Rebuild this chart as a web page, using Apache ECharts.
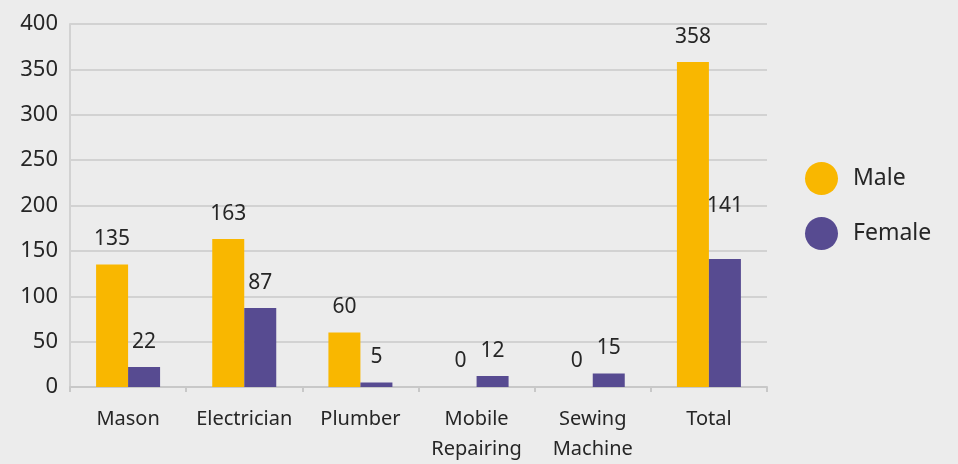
<!DOCTYPE html>
<html><head><meta charset="utf-8">
<script src="https://cdn.jsdelivr.net/npm/echarts@6/dist/echarts.min.js"></script>
<style>html,body{margin:0;padding:0;background:#ececec}#c{width:958px;height:464px}</style>
</head><body><div id="c"></div>
<script>
var categories = ['Mason', 'Electrician', 'Plumber', 'Mobile\nRepairing', 'Sewing\nMachine', 'Total'];
var maleValues = [135, 163, 60, 0, 0, 358];
var femaleValues = [22, 87, 5, 12, 15, 141];
var yTicks = [0, 50, 100, 150, 200, 250, 300, 350, 400];

var FONT = 'Noto Sans';
var TXT = '#262626';
var chart = echarts.init(document.getElementById('c'));
function labelCfg(dist){
  return {show:true, position:'top', distance:dist, color:TXT, fontSize:21, fontFamily:FONT};
}
var femaleData = femaleValues.map(function(v,i){
  if (i === 5) return {value:v, label:{distance:43}};
  return v;
});
chart.setOption({
  backgroundColor:'#ececec',
  animation:false,
  grid:{left:70, right:191, top:24, bottom:76},
  legend:{
    orient:'vertical', left:800, top:157, itemWidth:33, itemHeight:33, itemGap:22,
    icon:'circle',
    textStyle:{fontSize:23, color:TXT, fontFamily:FONT, padding:[0,0,0,10]},
    data:['Male','Female']
  },
  xAxis:{
    type:'category', data:categories,
    axisLine:{lineStyle:{color:'#c8c8c8', width:2}},
    axisTick:{show:true, length:5, lineStyle:{color:'#c8c8c8', width:2}},
    axisLabel:{color:TXT, fontSize:20, fontFamily:FONT, margin:17, lineHeight:30, interval:0, hideOverlap:false}
  },
  yAxis:{
    type:'value', min:yTicks[0], max:yTicks[yTicks.length-1], interval:50,
    axisLine:{show:true, lineStyle:{color:'#d2d2d2', width:2}},
    axisTick:{show:false},
    splitLine:{lineStyle:{color:'#d2d2d2', width:2}},
    axisLabel:{color:TXT, fontSize:22, fontFamily:FONT, margin:12}
  },
  series:[
    {name:'Male', type:'bar', data:maleValues, barWidth:32, barGap:'0%',
     itemStyle:{color:'#f9b700'}, label:labelCfg(15)},
    {name:'Female', type:'bar', data:femaleData, barWidth:32,
     itemStyle:{color:'#574b91'}, label:labelCfg(15)}
  ]
});
</script></body></html>
